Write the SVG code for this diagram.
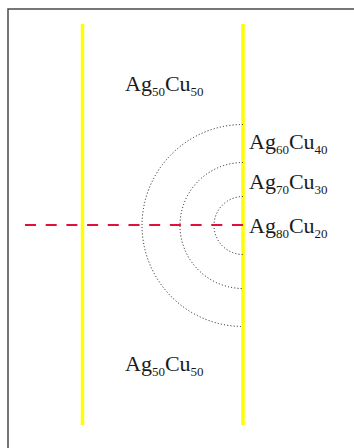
<svg xmlns="http://www.w3.org/2000/svg" width="354" height="448" viewBox="0 0 354 448">
<style>
.frame{fill:none;stroke:#4a4a4a;stroke-width:1.5}
.wall{stroke:#ffff00;stroke-width:3.5}
.arc{fill:none;stroke:#111;stroke-width:1;stroke-dasharray:1,2.2}
.axis{stroke:#e0103a;stroke-width:2;stroke-dasharray:11,9.7}
.lbl{font-family:"Liberation Serif","Times New Roman",serif;font-size:22px;fill:#1a1a1a}
.sub{font-size:13px}
</style>
<rect width="354" height="448" fill="#ffffff"/>
<path class="frame" d="M8,449 L8,9 L355,9"/>
<g id="walls">
<line class="wall" x1="82.5" y1="24" x2="82.5" y2="425"/>
<line class="wall" x1="243" y1="24" x2="243" y2="425"/>
</g>
<g id="connectors">
<path class="arc" d="M243,124.5 A101,101 0 0 0 243,326.5"/>
<path class="arc" d="M243,162.5 A63,63 0 0 0 243,288.5"/>
<path class="arc" d="M243,196.5 A29,29 0 0 0 243,254.5"/>
<line class="axis" x1="25" y1="225" x2="243" y2="225"/>
</g>
<g id="label-top"><text class="lbl" x="125" y="91">Ag<tspan class="sub" dy="5">50</tspan><tspan dy="-5">Cu</tspan><tspan class="sub" dy="5">50</tspan></text></g>
<g id="label-60"><text class="lbl" x="249" y="149">Ag<tspan class="sub" dy="5">60</tspan><tspan dy="-5">Cu</tspan><tspan class="sub" dy="5">40</tspan></text></g>
<g id="label-70"><text class="lbl" x="249" y="189">Ag<tspan class="sub" dy="5">70</tspan><tspan dy="-5">Cu</tspan><tspan class="sub" dy="5">30</tspan></text></g>
<g id="label-80"><text class="lbl" x="249" y="233">Ag<tspan class="sub" dy="5">80</tspan><tspan dy="-5">Cu</tspan><tspan class="sub" dy="5">20</tspan></text></g>
<g id="label-bottom"><text class="lbl" x="125" y="371">Ag<tspan class="sub" dy="5">50</tspan><tspan dy="-5">Cu</tspan><tspan class="sub" dy="5">50</tspan></text></g>
</svg>
